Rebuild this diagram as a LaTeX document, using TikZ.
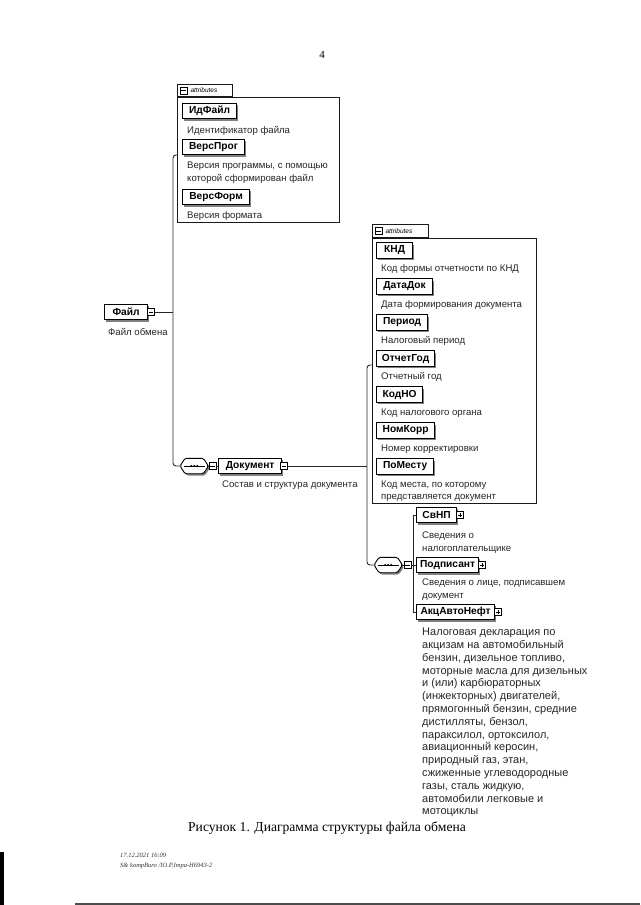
\documentclass[tikz,border=0pt]{standalone}
\usepackage{fontspec}
\setmainfont{Liberation Serif}
\setsansfont{Liberation Sans}
\usetikzlibrary{shadows}
\tikzset{
 conn/.style={draw=black!85, line width=0.9pt},
 shad/.style={drop shadow={shadow xshift=1.6pt, shadow yshift=-1.8pt, fill=black!50, opacity=1}},
 el/.style={draw=black, line width=1.2pt, fill=white, font=\sffamily\bfseries\fontsize{10.2}{11}\selectfont, minimum height=15.5pt, inner xsep=3pt, inner ysep=0pt, anchor=west, shad},
 desc/.style={font=\sffamily\fontsize{9.6}{12.6}\selectfont, anchor=north west, align=left, inner sep=0pt, text=black!85},
 abox/.style={draw=black!90, line width=0.9pt, anchor=north west, inner sep=0pt},
 tabbox/.style={draw=black!90, line width=0.9pt, anchor=south west, inner sep=0pt, fill=white},
 tabtext/.style={font=\sffamily\itshape\fontsize{6.5}{7}\selectfont, anchor=west, inner sep=0pt},
 mbox/.style={draw=black, line width=0.7pt, fill=white, minimum size=7pt, inner sep=0pt,
   path picture={\draw[line width=0.6pt] ([xshift=1.3pt]path picture bounding box.west) -- ([xshift=-1.3pt]path picture bounding box.east);}},
 pbox/.style={draw=black, line width=0.7pt, fill=white, minimum size=7pt, inner sep=0pt,
   path picture={\draw[line width=0.6pt] ([xshift=1.3pt]path picture bounding box.west) -- ([xshift=-1.3pt]path picture bounding box.east);
                 \draw[line width=0.6pt] ([yshift=1.3pt]path picture bounding box.south) -- ([yshift=-1.3pt]path picture bounding box.north);}},
 seqnode/.style={minimum width=28pt, minimum height=15pt, inner sep=0pt, anchor=west},
 seqline/.style={draw=black, line width=0.9pt, fill=white, rounded corners=1.5pt, shad},
}
\begin{document}
\begin{tikzpicture}[x=1pt,y=-1pt]
\useasboundingbox[fill=white] (0,0) rectangle (640,905);
% scan edges
\fill[black] (0,852) rectangle (3.5,905);
\fill[black!70] (75,903) rectangle (640,905);

\node[font=\fontsize{11}{12}\selectfont] (pg) at (322,55) {4};

% ---------- attributes of Файл
\node[abox, minimum width=162pt, minimum height=125pt] (attr1) at (177,97) {};
\node[tabbox, minimum width=55pt, minimum height=12pt] (tab1) at (attr1.north west) {};
\node[mbox] (tm1) at ([xshift=6.5pt]tab1.west) {};
\node[tabtext] (tt1) at ([xshift=3pt]tm1.east) {attributes};

\node[el, minimum width=54pt] (idf) at (182,111) {ИдФайл};
\node[desc] (idfd) at (187,126) {Идентификатор файла};
\node[el, minimum width=62pt] (vp) at (182,147) {ВерсПрог};
\node[desc] (vpd) at (187,162) {Версия программы, с помощью\\которой сформирован файл};
\node[el, minimum width=67pt] (vf) at (182,197) {ВерсФорм};
\node[desc] (vfd) at (187,211) {Версия формата};

% ---------- Файл
\node[el, minimum width=43pt] (fail) at (104,312) {Файл};
\node[mbox] (fm) at ([xshift=2.5pt]fail.east) {};
\node[desc] (faild) at (108,328) {Файл обмена};

\coordinate (j1) at (173,155);

% ---------- Документ
\node[seqnode] (seq1) at (180,466) {};
\path[seqline] (seq1.west) -- ([xshift=5pt]seq1.north west) -- ([xshift=-5pt]seq1.north east) -- (seq1.east) -- ([xshift=-5pt]seq1.south east) -- ([xshift=5pt]seq1.south west) -- cycle;
\draw[line width=0.8pt] ([xshift=3.5pt]seq1.west) -- ([xshift=-3.5pt]seq1.east);
\fill ([xshift=-3pt]seq1.center) circle (1.1pt);
\fill (seq1.center) circle (1.1pt);
\fill ([xshift=3pt]seq1.center) circle (1.1pt);
\node[mbox] (sm1) at (212.5,466) {};
\node[el, minimum width=63pt] (doc) at (218,466) {Документ};
\node[mbox] (dm) at ([xshift=2pt]doc.east) {};
\node[desc] (docd) at (222,481) {Состав и структура документа};

\draw[conn] (fm.east) -- (fm.east -| j1);
\draw[conn, rounded corners=3pt] (attr1.west |- j1) -- (j1) -- (j1 |- seq1.west) -- (seq1.west);
\draw[conn] (seq1.east) -- (sm1.west);
\draw[conn] (sm1.east) -- (doc.west);

% ---------- attributes of Документ
\node[abox, minimum width=164pt, minimum height=265pt] (attr2) at (372,238) {};
\node[tabbox, minimum width=56pt, minimum height=13pt] (tab2) at (attr2.north west) {};
\node[mbox] (tm2) at ([xshift=6.5pt]tab2.west) {};
\node[tabtext] (tt2) at ([xshift=3pt]tm2.east) {attributes};

\node[el, minimum width=36pt] (knd) at (376,250.5) {КНД};
\node[desc] (kndd) at (381,264.5) {Код формы отчетности по КНД};
\node[el, minimum width=56pt] (dd) at (376,286.5) {ДатаДок};
\node[desc] (ddd) at (381,300.5) {Дата формирования документа};
\node[el, minimum width=51pt] (per) at (376,322.5) {Период};
\node[desc] (perd) at (381,336.5) {Налоговый период};
\node[el, minimum width=58pt] (og) at (376,358.5) {ОтчетГод};
\node[desc] (ogd) at (381,372.5) {Отчетный год};
\node[el, minimum width=46pt] (kno) at (376,394.5) {КодНО};
\node[desc] (knod) at (381,408.5) {Код налогового органа};
\node[el, minimum width=58pt] (nk) at (376,430.5) {НомКорр};
\node[desc] (nkd) at (381,444.5) {Номер корректировки};
\node[el, minimum width=57pt] (pm) at (376,466.5) {ПоМесту};
\node[desc] (pmd) at (381,480.5) {Код места, по которому\\представляется документ};

\coordinate (j2) at (367,365);

% ---------- children of Документ
\node[seqnode] (seq2) at (374,565) {};
\path[seqline] (seq2.west) -- ([xshift=5pt]seq2.north west) -- ([xshift=-5pt]seq2.north east) -- (seq2.east) -- ([xshift=-5pt]seq2.south east) -- ([xshift=5pt]seq2.south west) -- cycle;
\draw[line width=0.8pt] ([xshift=3.5pt]seq2.west) -- ([xshift=-3.5pt]seq2.east);
\fill ([xshift=-3pt]seq2.center) circle (1.1pt);
\fill (seq2.center) circle (1.1pt);
\fill ([xshift=3pt]seq2.center) circle (1.1pt);
\node[mbox] (sm2) at (407.5,565) {};

\draw[conn] (dm.east) -- (dm.east -| j2);
\draw[conn, rounded corners=3pt] (attr2.west |- j2) -- (j2) -- (j2 |- seq2.west) -- (seq2.west);
\draw[conn] (seq2.east) -- (sm2.west);

\coordinate (j3) at (413,565);

\node[el, minimum width=40pt] (svnp) at (416,515) {СвНП};
\node[pbox] (svnpp) at ([xshift=3pt]svnp.east) {};
\node[desc] (svnpd) at (422,532) {Сведения о\\налогоплательщике};
\node[el, minimum width=62pt] (podp) at (416,565) {Подписант};
\node[pbox] (podpp) at ([xshift=3pt]podp.east) {};
\node[desc] (podpd) at (422,579) {Сведения о лице, подписавшем\\документ};
\node[el, minimum width=78pt] (akc) at (416,612) {АкцАвтоНефт};
\node[pbox] (akcp) at ([xshift=3pt]akc.east) {};
\node[desc, font=\sffamily\fontsize{11}{12.8}\selectfont] (akcd) at (422,628) {Налоговая декларация по\\акцизам на автомобильный\\бензин, дизельное топливо,\\моторные масла для дизельных\\и (или) карбюраторных\\(инжекторных) двигателей,\\прямогонный бензин, средние\\дистилляты, бензол,\\параксилол, ортоксилол,\\авиационный керосин,\\природный газ, этан,\\сжиженные углеводородные\\газы, сталь жидкую,\\автомобили легковые и\\мотоциклы};

\draw[conn] (sm2.east) -- (j3);
\draw[conn] (svnp.west) -- (svnp.west -| j3) -- (akc.west -| j3) -- (akc.west);
\draw[conn] (podp.west) -- (j3);

% ---------- caption and footer
\node[font=\fontsize{13.6}{16}\selectfont] (cap) at (327,828) {Рисунок 1. Диаграмма структуры файла обмена};
\node[font=\itshape\fontsize{6.5}{10}\selectfont, anchor=north west, align=left, inner sep=0pt, text=black!80] (foot) at (120,853) {17.12.2021 16:09\\S\& kompBuro /IO.P.Impa-H6943-2};
\end{tikzpicture}
\end{document}
